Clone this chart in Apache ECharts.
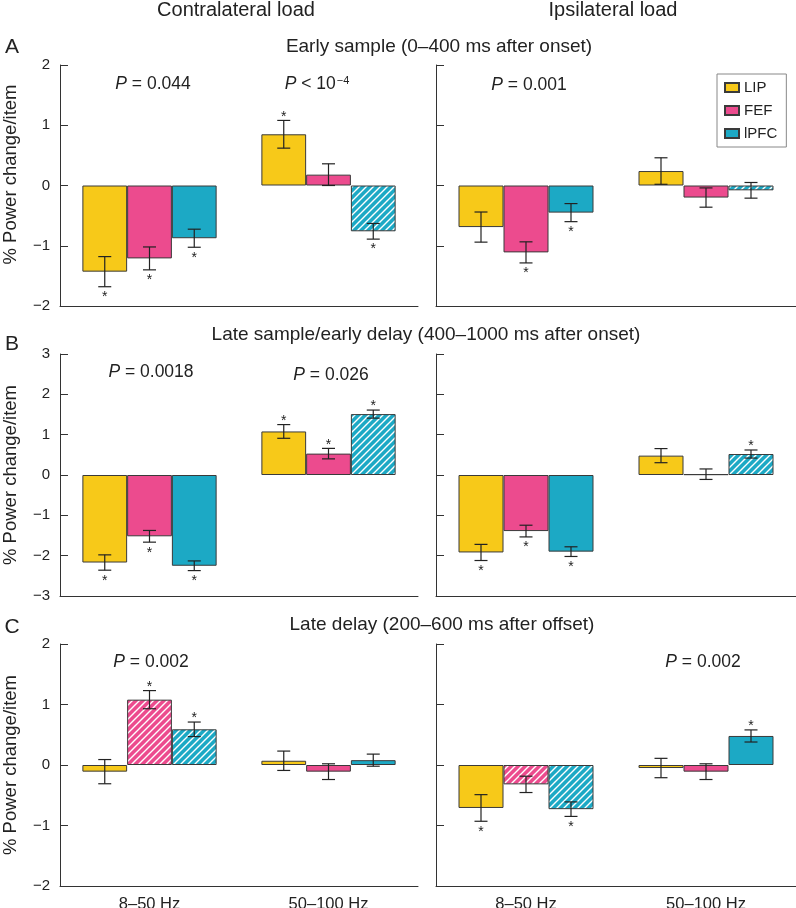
<!DOCTYPE html>
<html>
<head>
<meta charset="utf-8">
<script src="https://cdn.jsdelivr.net/npm/echarts@6/dist/echarts.min.js"></script>
<style>
html,body{margin:0;padding:0;background:#fff;}
#chart{width:796px;height:908px;}
</style>
</head>
<body>
<div id="chart"></div>
<script>
// ---------- data ----------
const categories = ['8–50 Hz', '50–100 Hz'];
const areas = ['LIP', 'FEF', 'lPFC'];
const areaColors = ['#F7C919', '#EC4B8E', '#1CA9C5'];

// rows: LIP, FEF, lPFC ; columns: 8–50 Hz, 50–100 Hz
// star: -1 below, 1 above, 0 none ; hatch: 1 = hatched bar
const earlyContraMean = [[-1.43, 0.85], [-1.21, 0.18], [-0.875, -0.76]];
const earlyContraSem  = [[0.25, 0.23], [0.19, 0.18], [0.15, 0.13]];
const earlyContraStar = [[-1, 1], [-1, 0], [-1, -1]];
const earlyContraHatch = [[0, 0], [0, 0], [0, 1]];

const earlyIpsiMean = [[-0.69, 0.24], [-1.11, -0.2], [-0.45, -0.08]];
const earlyIpsiSem  = [[0.25, 0.22], [0.175, 0.16], [0.15, 0.13]];
const earlyIpsiStar = [[0, 0], [-1, 0], [-1, 0]];
const earlyIpsiHatch = [[0, 0], [0, 0], [0, 1]];

const lateSampleContraMean = [[-2.17, 1.08], [-1.52, 0.53], [-2.25, 1.51]];
const lateSampleContraSem  = [[0.19, 0.17], [0.145, 0.13], [0.12, 0.1]];
const lateSampleContraStar = [[-1, 1], [-1, 1], [-1, 1]];
const lateSampleContraHatch = [[0, 0], [0, 0], [0, 1]];

const lateSampleIpsiMean = [[-1.92, 0.48], [-1.39, 0.02], [-1.9, 0.52]];
const lateSampleIpsiSem  = [[0.2, 0.175], [0.145, 0.13], [0.12, 0.1]];
const lateSampleIpsiStar = [[-1, 0], [-1, 0], [-1, 1]];
const lateSampleIpsiHatch = [[0, 0], [0, 0], [0, 1]];

const lateDelayContraMean = [[-0.11, 0.07], [1.08, -0.11], [0.59, 0.08]];
const lateDelayContraSem  = [[0.2, 0.16], [0.15, 0.13], [0.12, 0.1]];
const lateDelayContraStar = [[0, 0], [1, 0], [1, 0]];
const lateDelayContraHatch = [[0, 0], [1, 0], [1, 0]];

const lateDelayIpsiMean = [[-0.71, -0.05], [-0.32, -0.11], [-0.73, 0.48]];
const lateDelayIpsiSem  = [[0.22, 0.16], [0.135, 0.13], [0.12, 0.1]];
const lateDelayIpsiStar = [[-1, 0], [0, 0], [-1, 1]];
const lateDelayIpsiHatch = [[0, 0], [1, 0], [1, 0]];

const rowRanges = [[-2, 2], [-3, 3], [-2, 2]];
const columnTitles = ['Contralateral load', 'Ipsilateral load'];
const rowTitles = ['Early sample (0–400 ms after onset)', 'Late sample/early delay (400–1000 ms after onset)', 'Late delay (200–600 ms after offset)'];
const rowLetters = ['A', 'B', 'C'];
const yAxisName = '% Power change/item';

// ---------- layout ----------
const FONT = '"Liberation Sans", Arial, Helvetica, sans-serif';
const colLeft = [60, 436], colWidth = [358, 360];
const rowTop = [65, 354, 644], rowHeight = [241, 242, 242];

const panels = [
  {mean: earlyContraMean, sem: earlyContraSem, star: earlyContraStar, hatch: earlyContraHatch, row: 0, col: 0},
  {mean: earlyIpsiMean, sem: earlyIpsiSem, star: earlyIpsiStar, hatch: earlyIpsiHatch, row: 0, col: 1},
  {mean: lateSampleContraMean, sem: lateSampleContraSem, star: lateSampleContraStar, hatch: lateSampleContraHatch, row: 1, col: 0},
  {mean: lateSampleIpsiMean, sem: lateSampleIpsiSem, star: lateSampleIpsiStar, hatch: lateSampleIpsiHatch, row: 1, col: 1},
  {mean: lateDelayContraMean, sem: lateDelayContraSem, star: lateDelayContraStar, hatch: lateDelayContraHatch, row: 2, col: 0},
  {mean: lateDelayIpsiMean, sem: lateDelayIpsiSem, star: lateDelayIpsiStar, hatch: lateDelayIpsiHatch, row: 2, col: 1}
];

function makeHatch(color) {
  const s = 7;
  const c = document.createElement('canvas');
  c.width = s; c.height = s;
  const ctx = c.getContext('2d');
  ctx.fillStyle = color; ctx.fillRect(0, 0, s, s);
  ctx.strokeStyle = '#ffffff'; ctx.lineWidth = 1.4;
  ctx.beginPath();
  ctx.moveTo(-1, s + 1); ctx.lineTo(s + 1, -1);
  ctx.moveTo(-1, 1); ctx.lineTo(1, -1);
  ctx.moveTo(s - 1, s + 1); ctx.lineTo(s + 1, s - 1);
  ctx.stroke();
  return {image: c, repeat: 'repeat'};
}
const hatchPatterns = areaColors.map(makeHatch);

const AX = '#333';
const grids = [], xAxes = [], yAxes = [], series = [];
panels.forEach((p, i) => {
  grids.push({left: colLeft[p.col], top: rowTop[p.row], width: colWidth[p.col], height: rowHeight[p.row],
    outerBoundsMode: 'none', containLabel: false});
  xAxes.push({
    type: 'category', gridIndex: i, data: categories,
    axisLine: {onZero: false, lineStyle: {color: AX, width: 1}},
    axisTick: {inside: true, alignWithLabel: true, length: 9, lineStyle: {color: AX}},
    axisLabel: {show: p.row === 2, fontSize: 16.5, color: '#222', margin: 10, fontFamily: FONT},
    splitLine: {show: false}
  });
  const yAx = {
    type: 'value', gridIndex: i, min: rowRanges[p.row][0], max: rowRanges[p.row][1], interval: 1,
    axisLine: {show: true, lineStyle: {color: AX, width: 1}},
    axisTick: {show: true, inside: true, length: 8, lineStyle: {color: AX}},
    axisLabel: {show: p.col === 0, fontSize: 15, color: '#222', margin: 10, fontFamily: FONT,
      formatter: v => v < 0 ? '\u2212' + Math.abs(v) : String(v)},
    splitLine: {show: false}
  };
  if (p.col === 0) {
    yAx.name = yAxisName;
    yAx.nameLocation = 'middle';
    yAx.nameRotate = 90;
    yAx.nameGap = 40;
    yAx.nameTextStyle = {fontSize: 18.5, color: '#222', fontFamily: FONT, padding: p.row === 0 ? [0, 0, 0, 22] : 0};
  }
  yAxes.push(yAx);

  areas.forEach((name, a) => {
    series.push({
      type: 'bar', name: name, xAxisIndex: i, yAxisIndex: i,
      barGap: '0%', barCategoryGap: '25%',
      itemStyle: {color: areaColors[a], borderColor: '#3a3a3a', borderWidth: 1},
      emphasis: {disabled: true},
      data: p.mean[a].map((v, ci) => p.hatch[a][ci] ? {value: v, itemStyle: {color: hatchPatterns[a]}} : v)
    });
  });

  const errData = [];
  areas.forEach((name, a) => {
    p.mean[a].forEach((v, ci) => errData.push([ci, v, p.sem[a][ci], a, p.star[a][ci]]));
  });
  series.push({
    type: 'custom', xAxisIndex: i, yAxisIndex: i, z: 5,
    encode: {x: 0, y: 1},
    data: errData,
    renderItem: function (params, api) {
      const ci = api.value(0), m = api.value(1), s = api.value(2), a = api.value(3), st = api.value(4);
      const band = api.size([1, 0])[0];
      const bw = band * 0.75 / 3;
      const c = api.coord([ci, m]);
      const x = c[0] + (a - 1) * bw;
      const yT = api.coord([ci, m + s])[1];
      const yB = api.coord([ci, m - s])[1];
      const cap = 6.5;
      const ls = {stroke: '#222', lineWidth: 1.2};
      const children = [
        {type: 'line', shape: {x1: x, y1: yT, x2: x, y2: yB}, style: ls},
        {type: 'line', shape: {x1: x - cap, y1: yT, x2: x + cap, y2: yT}, style: ls},
        {type: 'line', shape: {x1: x - cap, y1: yB, x2: x + cap, y2: yB}, style: ls}
      ];
      if (st !== 0) {
        const ty = st > 0 ? yT - 3.5 : yB + 10.5;
        children.push({type: 'text', x: x, y: ty,
          style: {text: '*', fontSize: 14, fill: '#222', fontFamily: FONT, align: 'center', verticalAlign: 'middle'}});
      }
      return {type: 'group', children: children};
    }
  });
});

// ---------- text annotations ----------
function txt(text, x, y, size, extra) {
  return Object.assign({type: 'text', x: x, y: y, z: 10,
    style: {text: text, fontSize: size, fill: '#222', fontFamily: FONT, align: 'center', verticalAlign: 'middle'}}, extra || {});
}
const pRich = {i: {fontStyle: 'italic', fontSize: 17.5, fontFamily: FONT, fill: '#222'},
               sup: {fontSize: 11, fontFamily: FONT, fill: '#222', verticalAlign: 'top', padding: [0, 0, 6, 1]}};
function ptxt(text, x, y) {
  return {type: 'text', x: x, y: y, z: 10,
    style: {text: text, rich: pRich, fontSize: 17.5, fill: '#222', fontFamily: FONT, align: 'center', verticalAlign: 'middle'}};
}
const pLabels = [
  ['{i|P} = 0.044', 153, 84],
  ['{i|P} < 10{sup|\u22124}', 317, 84],
  ['{i|P} = 0.001', 529, 85],
  ['{i|P} = 0.0018', 151, 372],
  ['{i|P} = 0.026', 331, 375],
  ['{i|P} = 0.002', 151, 662],
  ['{i|P} = 0.002', 703, 662]
];

const graphics = [
  txt(columnTitles[0], 236, 10, 20),
  txt(columnTitles[1], 613, 10, 20),
  txt(rowTitles[0], 439, 47, 19),
  txt(rowTitles[1], 426, 335, 19),
  txt(rowTitles[2], 442, 625, 19),
  txt(rowLetters[0], 12, 47, 21),
  txt(rowLetters[1], 12, 344, 21),
  txt(rowLetters[2], 12, 627, 21)
].concat(pLabels.map(l => ptxt(l[0], l[1], l[2])));

const chart = echarts.init(document.getElementById('chart'), null, {renderer: 'canvas'});
chart.setOption({
  animation: false,
  backgroundColor: '#fff',
  textStyle: {fontFamily: FONT},
  grid: grids, xAxis: xAxes, yAxis: yAxes, series: series,
  legend: {
    data: areas, orient: 'vertical', left: 717, top: 74,
    itemWidth: 14, itemHeight: 9, itemGap: 8,
    padding: [6, 9, 6, 7],
    borderColor: '#888', borderWidth: 1, backgroundColor: '#fff',
    selectedMode: false,
    textStyle: {fontSize: 15, color: '#222', fontFamily: FONT},
    icon: 'rect'
  },
  graphic: graphics
});
</script>
</body>
</html>
